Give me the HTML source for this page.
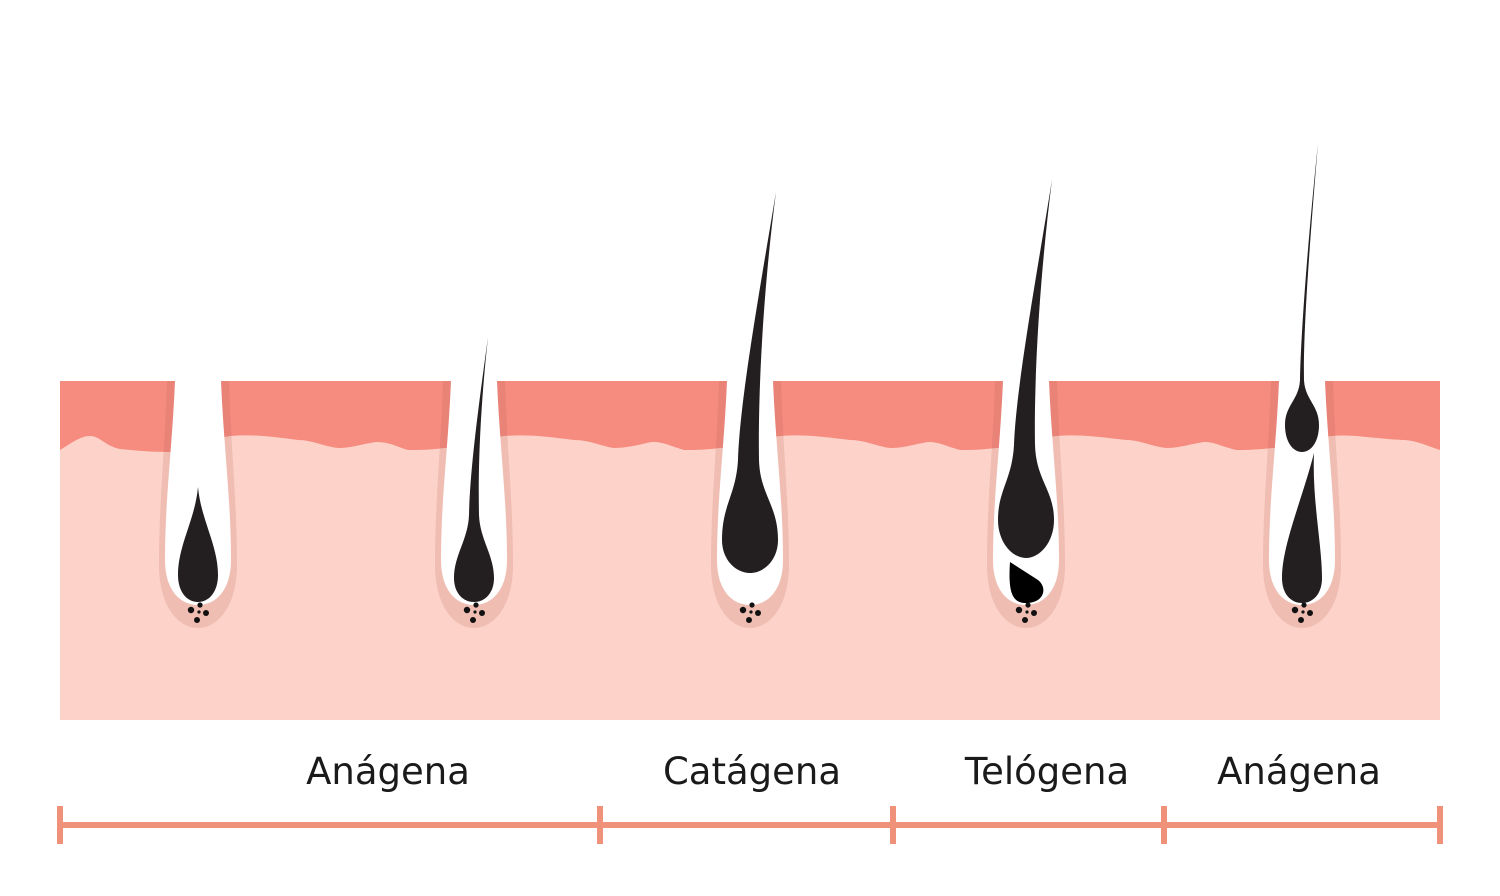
<!DOCTYPE html>
<html><head><meta charset="utf-8"><style>
html,body{margin:0;padding:0;background:#fff;}
svg{display:block;}
text{font-family:"DejaVu Sans","Liberation Sans",sans-serif;font-size:37px;fill:#1a1a1a;}
</style></head><body>
<svg width="1500" height="896" viewBox="0 0 1500 896" xmlns="http://www.w3.org/2000/svg">
<defs>
<g id="fol">
 <path d="M-31 381 C-33 450 -39 500 -39 565 C-39 606 -20 628 0 628 C20 628 39 606 39 565 C39 500 33 450 31 381 Z" fill="#b45a50" fill-opacity="0.18"/>
 <path d="M-23 381 C-26 450 -33 500 -33 560 C-33 590 -18 605 0 605 C18 605 33 590 33 560 C33 500 26 450 23 381 Z" fill="#fff"/>
 <circle cx="-7" cy="610" r="3.2" fill="#111"/>
 <circle cx="2" cy="605" r="2.6" fill="#111"/>
 <circle cx="8" cy="613" r="3" fill="#111"/>
 <circle cx="-1" cy="620" r="3" fill="#111"/>
 <circle cx="1" cy="612" r="1.6" fill="#111"/>
</g>
</defs>
<rect x="60" y="381" width="1380" height="339" fill="#fdd3c9"/>
<path d="M60 381 H1440 V450 C1425 445 1415 440 1402 440 C1370 438 1350 434 1332 436 C1300 440 1290 448 1272 448 C1255 450 1245 450 1236 450 C1220 446 1215 442 1204 442 C1190 444 1180 448 1166 448 C1150 446 1140 440 1126 440 C1100 437 1080 434 1056 436 C1030 440 1010 448 996 448 C980 450 970 450 960 450 C945 446 940 442 928 442 C915 444 905 448 890 448 C875 446 865 440 850 440 C825 437 805 434 780 436 C755 440 735 448 720 448 C705 450 695 450 684 450 C670 446 665 442 652 442 C640 444 630 448 614 448 C600 446 590 440 574 440 C550 437 530 434 504 436 C480 440 460 448 444 448 C430 450 420 450 408 450 C395 446 390 442 376 442 C362 444 352 448 338 448 C322 446 312 440 298 440 C275 437 255 434 230 436 C205 440 190 452 170 452 C145 452 132 450 120 449 C105 446 100 436 90 436 C80 436 70 444 60 450 Z" fill="#f68c80"/>
<use href="#fol" transform="translate(198,0)"/>
<use href="#fol" transform="translate(474,0)"/>
<use href="#fol" transform="translate(750,0)"/>
<use href="#fol" transform="translate(1026,0)"/>
<use href="#fol" transform="translate(1302,0)"/>
<g fill="#231f20">
 <path transform="translate(198,0)" d="M0 487 C-3 520 -20 545 -20 575 C-20 592 -11 602 0 602 C11 602 20 592 20 575 C20 545 3 520 0 487 Z"/>
 <path transform="translate(474,0)" d="M14 337 C4 410 -4 470 -5 515 C-6 540 -20 555 -20 578 C-20 593 -11 602 0 602 C11 602 20 593 20 578 C20 555 6 540 5 515 C4 470 6 410 14 337 Z"/>
 <path transform="translate(750,0)" d="M26 192 C8 300 -10 400 -12 460 C-14 495 -28 505 -28 540 C-28 560 -14 573 0 573 C14 573 28 560 28 540 C28 505 10 495 9 460 C8 400 12 300 26 192 Z"/>
 <path transform="translate(1026,0)" d="M26 180 C8 290 -10 390 -12 445 C-14 480 -28 490 -28 520 C-28 542 -14 558 0 558 C14 558 28 542 28 520 C28 490 10 480 9 445 C8 390 12 290 26 180 Z"/>
 <path transform="translate(1026,0)" fill="#000" d="M-16 562 L12 580 C22 588 18 603 0 603 C-14 603 -18 592 -16 562 Z"/>
 <path transform="translate(1302,0)" d="M16 143 C6 240 -1 330 -2 380 C-3 400 -17 405 -17 425 C-17 442 -9 452 0 452 C9 452 17 442 17 425 C17 405 3 400 2 380 C1 330 8 240 16 143 Z"/>
 <path transform="translate(1302,0)" d="M12 453 C0 500 -20 545 -20 578 C-20 594 -11 603 0 603 C11 603 20 594 20 578 C20 545 10 500 12 453 Z"/>
</g>
<g stroke="#ef9279" stroke-width="6" fill="none">
 <line x1="60" y1="825" x2="1440" y2="825"/>
 <line x1="60" y1="806" x2="60" y2="844"/>
 <line x1="600" y1="806" x2="600" y2="844"/>
 <line x1="893" y1="806" x2="893" y2="844"/>
 <line x1="1164" y1="806" x2="1164" y2="844"/>
 <line x1="1440" y1="806" x2="1440" y2="844"/>
</g>
<text x="388" y="784" text-anchor="middle">Anágena</text>
<text x="752" y="784" text-anchor="middle">Catágena</text>
<text x="1047" y="784" text-anchor="middle">Telógena</text>
<text x="1299" y="784" text-anchor="middle">Anágena</text>
</svg>
</body></html>
